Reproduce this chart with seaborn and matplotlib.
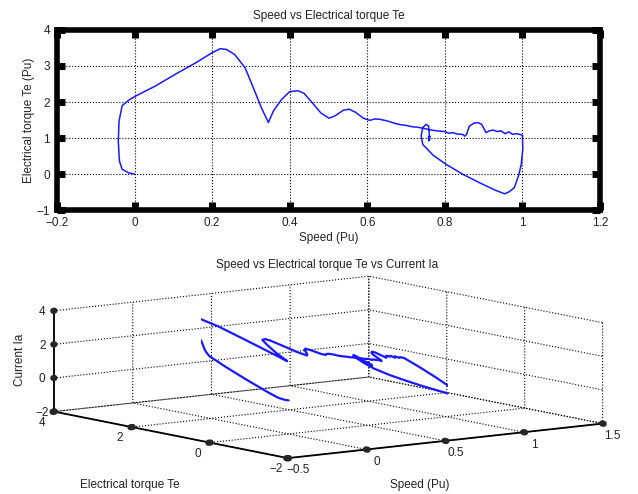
import matplotlib
matplotlib.use("Agg")
import matplotlib.pyplot as plt
import pandas as pd
import seaborn as sns

speed = [0.000, -0.015, -0.032, -0.039, -0.042, -0.040, -0.032, -0.015, 0.000, 0.053,
         0.105, 0.158, 0.200, 0.221, 0.237, 0.258, 0.285, 0.306, 0.327, 0.345,
         0.358, 0.379, 0.400, 0.422, 0.437, 0.458, 0.480, 0.501, 0.516, 0.538,
         0.553, 0.569, 0.590, 0.606, 0.620, 0.632, 0.645, 0.653, 0.670, 0.685,
         0.700, 0.717, 0.730, 0.748, 0.765, 0.786, 0.800, 0.810, 0.820, 0.832,
         0.846, 0.851, 0.856, 0.863, 0.875, 0.885, 0.895, 0.906, 0.915, 0.925,
         0.935, 0.945, 0.955, 0.965, 0.975, 0.985, 1.000, 1.001, 0.997, 0.990,
         0.979, 0.965, 0.954, 0.930, 0.889, 0.845, 0.803, 0.770, 0.743, 0.739,
         0.743, 0.752, 0.758, 0.760, 0.758, 0.762, 0.757, 0.761, 0.759]
torque = [0.00, 0.03, 0.13, 0.36, 0.92, 1.47, 1.90, 2.05, 2.15, 2.44,
          2.77, 3.09, 3.37, 3.48, 3.46, 3.32, 2.95, 2.40, 1.84, 1.43,
          1.75, 2.07, 2.29, 2.31, 2.24, 1.98, 1.70, 1.55, 1.61, 1.77,
          1.80, 1.72, 1.55, 1.49, 1.53, 1.52, 1.49, 1.47, 1.41, 1.37,
          1.35, 1.31, 1.30, 1.26, 1.22, 1.19, 1.18, 1.13, 1.15, 1.11,
          1.10, 1.05, 1.10, 1.33, 1.41, 1.43, 1.38, 1.15, 1.20, 1.22,
          1.18, 1.20, 1.12, 1.17, 1.10, 1.12, 1.08, 0.70, 0.27, -0.05,
          -0.38, -0.50, -0.55, -0.45, -0.24, 0.00, 0.27, 0.52, 0.82, 1.06,
          1.29, 1.38, 1.33, 1.10, 0.92, 1.05, 1.00, 0.95, 1.03]
current = [0.00, 0.03, 0.12, 0.34, 0.86, 1.38, 1.78, 1.92, 2.01, 2.28,
           2.58, 2.88, 3.12, 3.20, 3.18, 3.06, 2.74, 2.24, 1.72, 1.32,
           1.62, 1.93, 2.13, 2.15, 2.08, 1.84, 1.58, 1.44, 1.50, 1.65,
           1.68, 1.60, 1.44, 1.39, 1.42, 1.42, 1.39, 1.37, 1.31, 1.28,
           1.26, 1.22, 1.21, 1.17, 1.14, 1.11, 1.10, 1.05, 1.07, 1.03,
           1.02, 0.98, 1.02, 1.24, 1.31, 1.33, 1.28, 1.07, 1.12, 1.14,
           1.10, 1.12, 1.04, 1.09, 1.02, 1.04, 1.00, 0.65, 0.25, -0.05,
           -0.35, -0.46, -0.50, -0.42, -0.22, 0.00, 0.25, 0.48, 0.76, 0.99,
           1.20, 1.28, 1.24, 1.02, 0.86, 0.98, 0.93, 0.88, 0.96]

x_ticks = [-0.2, 0, 0.2, 0.4, 0.6, 0.8, 1, 1.2]
x_labels = ["\u22120.2", "0", "0.2", "0.4", "0.6", "0.8", "1", "1.2"]
y_ticks = [-1, 0, 1, 2, 3, 4]
y_labels = ["\u22121", "0", "1", "2", "3", "4"]
speed_ticks_3d = [-0.5, 0, 0.5, 1, 1.5]
speed_labels_3d = ["\u22120.5", "0", "0.5", "1", "1.5"]
torque_ticks_3d = [-2, 0, 2, 4]
torque_labels_3d = ["\u22122", "0", "2", "4"]
current_ticks_3d = [-2, 0, 2, 4]
current_labels_3d = ["\u22122", "0", "2", "4"]

sns.set_style("white")
plt.rcParams["font.family"] = ["Liberation Sans", "DejaVu Sans"]
plt.rcParams["font.size"] = 8.5
plt.rcParams["text.color"] = "#222222"
plt.rcParams["grid.linestyle"] = ":"
plt.rcParams["grid.color"] = "k"
plt.rcParams["grid.linewidth"] = 0.8
plt.rcParams["xtick.major.width"] = 4.5
plt.rcParams["ytick.major.width"] = 4.5

W, H = 638, 494
fig = plt.figure(figsize=(W / 100, H / 100), dpi=100)

# --- 2D plot
ax1 = fig.add_axes([57 / W, 1 - 210 / H, 543 / W, 180 / H])
df = pd.DataFrame({"speed": speed, "torque": torque})
sns.lineplot(data=df, x="speed", y="torque", sort=False, estimator=None,
             color="#1a1aff", linewidth=1.1, ax=ax1)
ax1.set_xlim(-0.2, 1.2)
ax1.set_ylim(-1, 4)
ax1.set_xticks(x_ticks, x_labels)
ax1.set_yticks(y_ticks, y_labels)
ax1.grid(True, linestyle=":", color="k", linewidth=0.8)
for s in ax1.spines.values():
    s.set_linewidth(4)
    s.set_color("k")
ax1.tick_params(direction="in", length=6, width=5, top=True, right=True,
                bottom=True, left=True, labelsize=8.5, pad=5, colors="k",
                labelcolor="#222222")
ax1.set_xlabel("Speed (Pu)", fontsize=8.5, labelpad=2)
ax1.set_ylabel("Electrical torque Te (Pu)", fontsize=8.5, labelpad=1)
ax1.set_title("Speed vs Electrical torque Te", fontsize=8.5, pad=8)

# --- 3D plot
ax2 = fig.add_axes([0.0294, 0.0, 0.96, 0.5], projection="3d")
ax2.plot(speed, torque, current, color="#1a1aff", linewidth=1.6)
ax2.set_xlim(-0.5, 1.5)
ax2.set_ylim(-2, 4)
ax2.set_zlim(-2, 4)
ax2.set_xticks(speed_ticks_3d, speed_labels_3d)
ax2.set_yticks(torque_ticks_3d, torque_labels_3d)
ax2.set_zticks(current_ticks_3d, current_labels_3d)
ax2.set_proj_type("ortho")
ax2.view_init(elev=8.5, azim=-126.6)
ax2.set_box_aspect((1, 1, 0.26), zoom=2.216)
for axis in (ax2.xaxis, ax2.yaxis, ax2.zaxis):
    axis.set_pane_color((1, 1, 1, 0))
    axis.pane.set_edgecolor("none")
    axis.line.set_color("k")
    axis.line.set_linewidth(1.3)
    # short square-ish tick blobs
    axis._axinfo["tick"]["inward_factor"] = 0.06
    axis._axinfo["tick"]["outward_factor"] = 0.03
ax2.zaxis._axinfo["tick"]["inward_factor"] = 0.03
ax2.zaxis._axinfo["tick"]["outward_factor"] = 0.015
ax2.tick_params(labelsize=8.5, labelcolor="#222222")
ax2.xaxis.set_tick_params(pad=-4)
ax2.yaxis.set_tick_params(pad=-4.5)
ax2.zaxis.set_tick_params(pad=-6)
for lbl in ax2.zaxis.get_majorticklabels():
    lbl.set_verticalalignment("center_baseline")
fig.text(327 / W, 1 - 265 / H, "Speed vs Electrical torque Te vs Current Ia",
         ha="center", va="center", fontsize=8.5)
fig.text(130 / W, 1 - 485 / H, "Electrical torque Te", ha="center", va="center", fontsize=8.5)
fig.text(420 / W, 1 - 485 / H, "Speed (Pu)", ha="center", va="center", fontsize=8.5)
fig.text(20 / W, 1 - 360 / H, "Current Ia", ha="center", va="center",
         rotation=90, fontsize=8.5)

fig.savefig("out.png", dpi=100)
